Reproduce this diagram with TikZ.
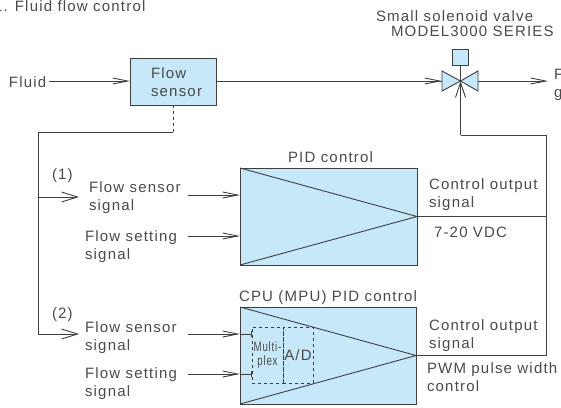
\documentclass[tikz,border=0pt]{standalone}
\usepackage{xcolor}
\usepackage{fontspec}
\setmainfont[LetterSpace=8]{Liberation Sans}
\usetikzlibrary{arrows.meta}
\usetikzlibrary{positioning}
\definecolor{paleblue}{HTML}{C6E8F9}
\definecolor{inkgray}{HTML}{3F3F3F}
\definecolor{textgray}{HTML}{4A4A4A}

\begin{document}
\begin{tikzpicture}[x=1pt,y=-1pt,
	line width=0.9pt,
  lbl/.style={text=textgray,inner sep=0pt,outer sep=0pt,align=left,anchor=base west,
    font=\fontsize{15}{18}\selectfont},
  block/.style={draw=inkgray,fill=paleblue,inner sep=0pt,outer sep=0pt,anchor=north west},
  feed/.style={draw=inkgray,-{Straight Barb[length=15pt,width=6pt]}},
  branch/.style={draw=inkgray,-{Straight Barb[length=16pt,width=10pt]}},
  wire/.style={draw=inkgray}]
  \useasboundingbox (0,0) rectangle (561,407);

  % top row
  \node[block,minimum width=86pt,minimum height=47pt] (sensor) at (130,58) {};
  \node[lbl] (sensorlbl) at (151,96) {Flow\\sensor};
  \node[lbl] (title) at (-6,11) {1. Fluid flow control};
  \node[lbl] (fluidin) at (9,87) {Fluid};
  \node[lbl] (valvelbl) at (376,21) {Small solenoid valve};
  \node[lbl] (modellbl) at (391,36) {MODEL3000 SERIES};
  \node[lbl] (fluidout) at (554,97) {F\\g};

  % valve
  \coordinate (valve) at (460.5,81);
  \coordinate (valveleft) at (442,81);
  \coordinate (valveright) at (478,81);
  \coordinate (fluidend) at (548,81);
  \coordinate (fluidstart) at (49,81);
  \node[block,minimum width=16pt,minimum height=16pt,anchor=north] (coil) at (460.5,49) {};
  \draw[wire] (coil.south) -- (valve);
  \draw[wire,fill=paleblue] (valve) -- (442,71) -- (442,91) -- cycle;
  \draw[wire,fill=paleblue] (valve) -- (478,71) -- (478,91) -- cycle;

  % PID blocks
  \node[block,minimum width=177pt,minimum height=97pt] (pid) at (240,168) {};
  \draw[wire] (pid.north west) -- (pid.east) -- (pid.south west);
  \node[block,minimum width=176pt,minimum height=97pt] (cpu) at (240,307) {};
  \draw[wire] (cpu.north west) -- (cpu.east) -- (cpu.south west);
  \node[lbl] (pidlbl) at (288,162) {PID control};
  \node[lbl] (cpulbl) at (239,301) {CPU (MPU) PID control};

  % multiplexer and converter
  \node[block,fill=none,dashed,minimum width=31pt,minimum height=56pt] (mux) at (252,327) {};
  \node[block,fill=none,dashed,minimum width=30pt,minimum height=56pt] (adc) at (283,327) {};
  \node[text=textgray,inner sep=0pt,align=center,font=\fontsize{13.5}{14}\selectfont,xscale=0.72] (muxlbl) at (mux.center) {Multi-\\plex};
  \node[text=textgray,inner sep=0pt,font=\fontsize{15}{18}\selectfont] (adclbl) at (adc.center) {A/D};

  % signal labels
  \node[lbl] (one) at (52,179) {(1)};
  \node[lbl] (two) at (52,318) {(2)};
  \node[lbl] (pidsensor) at (89,210) {Flow sensor\\signal};
  \node[lbl] (pidset) at (85,259) {Flow setting\\signal};
  \node[lbl] (cpusensor) at (85,350) {Flow sensor\\signal};
  \node[lbl] (cpuset) at (85,396) {Flow setting\\signal};
  \node[lbl] (pidout) at (429,207) {Control output\\signal};
  \node[lbl] (pidvolt) at (434,237) {7-20 VDC};
  \node[lbl] (cpuout) at (429,348) {Control output\\signal};
  \node[lbl] (cpupwm) at (427,391) {PWM pulse width\\control};

  % connectors
  \draw[feed] (fluidstart) -- (sensor.west |- fluidstart);
  \draw[wire] (sensor.east |- fluidstart) -- (valveleft);
  \draw[feed] (400,81) -- (valveleft);
  \draw[feed] (valveright) -- (fluidend);
  \coordinate (tap) at (173,132);
  \coordinate (riser) at (38,132);
  \coordinate (tapone) at (38,197);
  \coordinate (taptwo) at (38,334);
  \draw[wire,dashed] (sensor.south -| tap) -- (tap);
  \draw[wire] (tap) -- (riser) -- (taptwo);
  \draw[branch] (tapone) -- (79,197);
  \draw[branch] (taptwo) -- (79,334);

  \coordinate (pida) at (188,195);
  \coordinate (pidb) at (188,236);
  \coordinate (cpua) at (188,334);
  \coordinate (cpub) at (188,374);
  \draw[feed] (pida) -- (pida -| pid.west);
  \draw[feed] (pidb) -- (pidb -| pid.west);
  \draw[feed] (cpua) -- (cpua -| cpu.west);
  \draw[feed] (cpub) -- (cpub -| cpu.west);
  \draw[wire,|-] (mux.west |- cpua) -- (cpua -| cpu.west);
  \draw[wire,|-] (mux.west |- cpub) -- (cpub -| cpu.west);

  \coordinate (looptop) at (546,135);
  \coordinate (valvefoot) at (460.5,135);
  \draw[wire] (pid.east) -- (pid.east -| looptop);
  \draw[wire] (cpu.east) -- (cpu.east -| looptop) -- (looptop) -- (valvefoot);
  \draw[wire,-{Straight Barb[length=15pt,width=10pt]}] (valvefoot) -- (valve);
\end{tikzpicture}
\end{document}
